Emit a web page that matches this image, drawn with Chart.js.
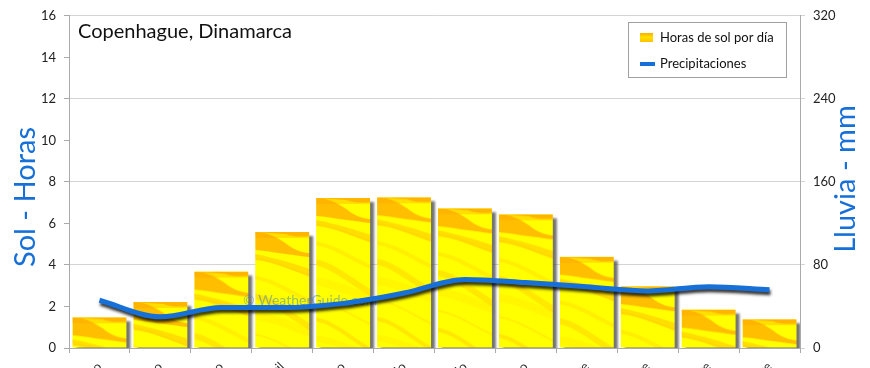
<!DOCTYPE html>
<html><head><meta charset="utf-8">
<script src="https://cdn.jsdelivr.net/npm/chart.js@4"></script>
<style>html,body{margin:0;padding:0;background:#fff;overflow:hidden}#wrap{width:870px;height:368px;position:relative}</style>
</head><body><div id="wrap"><canvas id="c" width="870" height="368"></canvas></div>
<script>
const months = ['Enero','Febrero','Marzo','Abril','Mayo','Junio','Julio','Agosto','Septiembre','Octubre','Noviembre','Diciembre'];
const sunHours = [1.48, 2.22, 3.68, 5.59, 7.23, 7.26, 6.73, 6.44, 4.40, 2.98, 1.85, 1.39];
const rainMm = [46, 30, 39, 39, 43, 53, 66, 63, 59, 55, 59, 56];
const leftTicks = [0, 2, 4, 6, 8, 10, 12, 14, 16];
const rightTicks = [0, 80, 160, 240, 320];
const titleText = 'Copenhague, Dinamarca';
const leftTitle = 'Sol - Horas';
const rightTitle = 'Lluvia - mm';
const legendSun = 'Horas de sol por día';
const legendRain = 'Precipitaciones';
const watermark = '© WeatherGuide.com';

const FONT = 'Lato, "Open Sans", sans-serif';
const BLUE = '#1670d8';

// bar texture (style only)
const tex = document.createElement('canvas'); tex.width = 64; tex.height = 360;
(function(){
  const t = tex.getContext('2d');
  t.fillStyle = '#FFFF00'; t.fillRect(0,0,64,360);
  for (let i = 0; i < 18; i++) {
    const y0 = 26 + i * 19;
    t.strokeStyle = 'rgba(255,165,0,' + (0.10 + (i % 3) * 0.08) + ')';
    t.lineWidth = 2 + (i % 4) * 2;
    t.beginPath(); t.moveTo(-4, y0); t.bezierCurveTo(20, y0 + 2, 40, y0 + 14 + (i%3)*6, 68, y0 + 22 + (i % 3) * 8); t.stroke();
  }
  // orange top-left wave
  t.fillStyle = 'rgba(255,170,0,0.75)';
  t.beginPath(); t.moveTo(0,0); t.lineTo(64,0); t.lineTo(64,4);
  t.bezierCurveTo(50,4, 40,6, 30,2); t.lineTo(0,0); t.closePath(); t.fill();
  t.beginPath(); t.moveTo(0,0); t.bezierCurveTo(12,0, 24,6, 34,14); t.bezierCurveTo(42,20, 54,22, 64,22);
  t.lineTo(64,26); t.bezierCurveTo(40,24, 20,20, 0,18); t.closePath(); t.fill();
  t.fillStyle = 'rgba(255,160,0,0.35)';
  t.fillRect(0,0,64,6);
  t.beginPath(); t.moveTo(0,28); t.bezierCurveTo(20,30, 40,40, 64,48); t.lineTo(64,40); t.bezierCurveTo(40,32, 20,26, 0,22); t.closePath(); t.fill();
})();

function barFill(ctx) {
  const chart = ctx.chart;
  if (!chart.chartArea || ctx.type !== 'data') return '#FFF200';
  const xs = chart.scales.x, ys = chart.scales.y;
  const x = xs.getPixelForValue(ctx.dataIndex) - 27;
  const y = ys.getPixelForValue(ctx.raw);
  const p = chart.ctx.createPattern(tex, 'repeat');
  p.setTransform(new DOMMatrix().translate(x, y));
  return p;
}

const decor = {
  id: 'decor',
  beforeDatasetDraw(chart, args) {
    const c = chart.ctx; c.save();
    if (args.index === 0) {
      c.shadowColor = 'rgba(70,70,70,0.75)'; c.shadowOffsetX = 4; c.shadowOffsetY = 4; c.shadowBlur = 2;
    } else {
      c.shadowColor = 'rgba(0,0,0,0.8)'; c.shadowOffsetX = 1; c.shadowOffsetY = 3; c.shadowBlur = 3;
    }
  },
  afterDatasetDraw(chart, args) {
    const c = chart.ctx; c.restore();
    if (args.index === 0) {
      c.save();
      c.font = '14px ' + FONT; c.fillStyle = 'rgba(30,110,210,0.45)';
      c.textBaseline = 'middle'; c.fillText(watermark, 243, 300);
      c.restore();
    }
  },
  afterDraw(chart) {
    const c = chart.ctx; c.save();
    c.fillStyle = '#111'; c.font = '20px ' + FONT; c.textBaseline = 'alphabetic';
    c.fillText(titleText, 78, 38);
    c.fillStyle = BLUE; c.font = '29px ' + FONT; c.textAlign = 'center'; c.textBaseline = 'middle';
    c.save(); c.translate(26, 197); c.rotate(-Math.PI/2); c.fillText(leftTitle, 0, 0); c.restore();
    c.save(); c.translate(846, 179); c.rotate(-Math.PI/2); c.fillText(rightTitle, 0, 0); c.restore();
    // legend
    c.fillStyle = '#fff'; c.fillRect(628.5, 22.5, 158, 55);
    c.strokeStyle = '#a0a0a0'; c.lineWidth = 1; c.strokeRect(628.5, 22.5, 158, 55);
    const g = c.createLinearGradient(0, 33, 0, 42);
    g.addColorStop(0,'#FFB000'); g.addColorStop(0.5,'#FFE000'); g.addColorStop(1,'#FFC000');
    c.fillStyle = g; c.fillRect(640, 33, 13, 9);
    c.strokeStyle = BLUE; c.lineWidth = 4; c.beginPath(); c.moveTo(640, 64); c.lineTo(655, 64); c.stroke();
    c.fillStyle = '#111'; c.font = '13px ' + FONT; c.textAlign = 'left'; c.textBaseline = 'middle';
    c.fillText(legendSun, 660, 38);
    c.fillText(legendRain, 660, 64);
    c.restore();
  }
};

new Chart(document.getElementById('c'), {
  data: {
    labels: months,
    datasets: [
      { type: 'bar', label: legendSun, data: sunHours, yAxisID: 'y', order: 2,
        backgroundColor: barFill, borderWidth: 0, categoryPercentage: 1, barPercentage: 0.885, clip: 0 },
      { type: 'line', label: legendRain, data: rainMm, yAxisID: 'y1', order: 1,
        borderColor: BLUE, borderWidth: 5, pointRadius: 0, cubicInterpolationMode: 'monotone', fill: false, clip: 6 }
    ]
  },
  options: {
    responsive: false, animation: false, devicePixelRatio: 1,
    layout: { padding: { top: 11, left: 0, right: 0, bottom: 0 } },
    plugins: { legend: { display: false }, tooltip: { enabled: false } },
    scales: {
      x: {
        offset: true,
        grid: { offset: true, drawOnChartArea: false, tickLength: 5, color: '#aaa' },
        border: { color: '#aaa' },
        ticks: { minRotation: 45, maxRotation: 45, autoSkip: false, padding: 6, color: '#333', font: { family: FONT, size: 13 } },
        afterFit(s) { s.height = 20; }
      },
      y: {
        position: 'left', min: 0, max: 16,
        afterBuildTicks(s) { s.ticks = leftTicks.map(v => ({ value: v })); },
        grid: { drawOnChartArea: false, tickLength: 5, color: '#aaa' },
        border: { color: '#aaa' },
        ticks: { padding: 8, color: '#222', font: { family: FONT, size: 13 } },
        afterFit(s) { s.width = 69; }
      },
      y1: {
        position: 'right', min: 0, max: 320,
        afterBuildTicks(s) { s.ticks = rightTicks.map(v => ({ value: v })); },
        grid: { tickLength: 5, color: '#d4d4d4' },
        border: { color: '#aaa' },
        ticks: { padding: 8, color: '#222', font: { family: FONT, size: 13 } },
        afterFit(s) { s.width = 70; }
      }
    }
  },
  plugins: [decor]
});
</script>
</body></html>
